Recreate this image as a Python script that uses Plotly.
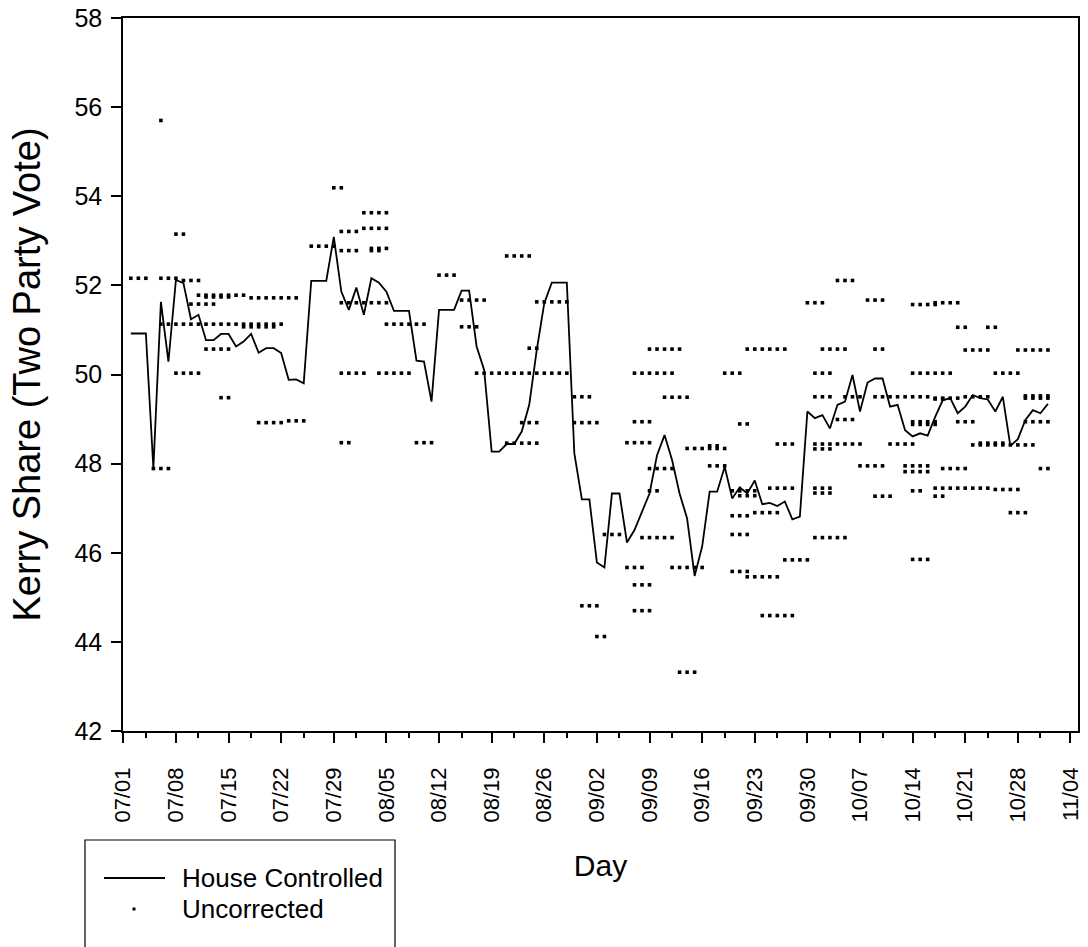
import pandas as pd
import plotly.graph_objects as go

BASE = pd.Timestamp("2004-07-01")

# Daily house-controlled estimate, first value on day 1 (07/02)
house_first_day = 1
house_controlled = [
    50.92, 50.92, 50.92, 47.89, 51.63, 50.29, 52.12, 52.05, 51.24, 51.34,
    50.77, 50.77, 50.91, 50.91, 50.63, 50.74, 50.91, 50.49, 50.59, 50.59,
    50.48, 49.88, 49.89, 49.80, 52.10, 52.10, 52.10, 53.09, 51.86, 51.45,
    51.95, 51.34, 52.16, 52.06, 51.86, 51.43, 51.43, 51.43, 50.31, 50.29,
    49.39, 51.45, 51.45, 51.45, 51.88, 51.88, 50.63, 50.10, 48.27, 48.27,
    48.44, 48.44, 48.72, 49.32, 50.55, 51.60, 52.06, 52.06, 52.06, 48.23,
    47.20, 47.20, 45.78, 45.67, 47.33, 47.33, 46.23, 46.51, 46.90, 47.33,
    48.19, 48.64, 48.08, 47.33, 46.77, 45.48, 46.14, 47.37, 47.37, 47.93,
    47.22, 47.47, 47.33, 47.62, 47.09, 47.12, 47.05, 47.15, 46.75, 46.81,
    49.17, 49.02, 49.09, 48.79, 49.32, 49.39, 49.99, 49.17, 49.82, 49.91,
    49.91, 49.28, 49.32, 48.75, 48.61, 48.68, 48.63, 49.05, 49.42, 49.47,
    49.13, 49.28, 49.54, 49.47, 49.44, 49.17, 49.50, 48.40, 48.55, 48.98,
    49.20, 49.13, 49.34,
]

# Uncorrected polls: first field day (days after 07/01), field length, Kerry share
poll_start = [
    1, 5, 8, 7, 5, 10, 11, 17, 9, 5, 13, 16, 11, 7, 13, 18, 22, 4,
    28, 32, 32, 29, 25, 33, 33, 29, 42, 29, 35, 29, 34, 29, 39,
    51, 45, 55, 45, 54, 47, 54, 60, 53, 60, 51,
    64, 61, 63,
    70, 83, 68, 80, 72, 68, 82, 67, 87, 75, 78, 78, 70, 86, 70, 81, 82,
    84, 81, 81, 69, 88, 67, 73, 81, 83, 68, 68, 85, 74,
    95, 99, 91, 105, 108, 93, 100, 92, 105, 92, 96, 100, 104, 108, 112, 108,
    120, 120, 95, 105, 105, 92, 92, 95, 102, 98, 104, 104, 109, 92, 92, 100,
    105, 108, 112, 116, 108, 92, 105,
    111, 115, 112, 119, 116, 111, 120, 113, 114, 122, 118,
]
poll_days = [
    3, 3, 3, 2, 1, 7, 4, 7, 4, 8, 9, 5, 4, 4, 2, 4, 3, 3,
    2, 4, 4, 3, 4, 3, 2, 3, 3, 7, 6, 4, 5, 2, 3,
    4, 4, 5, 3, 2, 7, 6, 3, 3, 4, 5,
    3, 3, 2,
    5, 6, 6, 3, 4, 3, 2, 4, 3, 6, 2, 3, 4, 4, 2, 4, 3,
    4, 3, 3, 5, 4, 3, 5, 3, 5, 3, 3, 5, 3,
    3, 3, 3, 4, 4, 4, 2, 3, 6, 3, 3, 4, 4, 4, 4, 2,
    4, 4, 3, 4, 4, 3, 3, 4, 4, 4, 4, 4, 4, 3, 3, 3,
    2, 4, 4, 4, 2, 5, 3,
    2, 2, 4, 5, 4, 3, 4, 9, 4, 2, 3,
]
poll_share = [
    52.16, 52.16, 52.11, 53.15, 55.70, 51.78, 51.74, 51.72, 51.58, 51.13, 51.13, 51.07,
    50.57, 50.03, 49.48, 48.92, 48.96, 47.89,
    54.19, 53.63, 53.28, 53.21, 52.88, 52.83, 52.78, 52.78, 52.23, 51.61, 51.13,
    50.03, 50.03, 48.47, 48.47,
    52.66, 51.67, 51.63, 51.07, 50.59, 50.03, 50.03, 49.50, 48.92, 48.92, 48.46,
    46.41, 44.81, 44.12,
    50.57, 50.57, 50.03, 50.03, 49.49, 48.94, 48.89, 48.47, 48.44, 48.34, 48.40,
    47.95, 47.89, 47.45, 47.39, 47.39, 47.28,
    46.90, 46.83, 46.41, 46.34, 45.84, 45.67, 45.67, 45.58, 45.46, 45.28, 44.70,
    44.59, 43.32,
    52.11, 51.67, 51.61, 51.57, 51.61, 50.57, 50.57, 50.03, 50.03, 49.50, 49.50,
    49.50, 49.50, 49.47, 49.50, 49.45,
    49.47, 49.52, 48.99, 48.94, 48.88, 48.44, 48.33, 48.44, 48.44, 47.95, 47.95,
    47.82, 47.89, 47.45, 47.34, 47.27,
    47.39, 47.45, 47.45, 47.42, 47.27, 46.34, 45.85,
    51.06, 51.06, 50.55, 50.55, 50.03, 48.94, 48.94, 48.42, 48.46, 47.89, 46.90,
]

# Week ticks with labels, and an unlabeled tick three days after each
week_ticks = [BASE + pd.Timedelta(days=7 * k) for k in range(19)]
mid_ticks = [BASE + pd.Timedelta(days=7 * k + 3) for k in range(18)]
y_ticks = [42, 44, 46, 48, 50, 52, 54, 56, 58]

line_x = [BASE + pd.Timedelta(days=house_first_day + i) for i in range(len(house_controlled))]

dot_x, dot_y = [], []
for start, n, share in zip(poll_start, poll_days, poll_share):
    for k in range(n):
        dot_x.append(BASE + pd.Timedelta(days=start + k))
        dot_y.append(share)

fig = go.Figure()
fig.add_trace(go.Scatter(
    x=dot_x, y=dot_y, mode="markers", name="Uncorrected",
    marker=dict(symbol="square", size=3.6, color="black", line=dict(width=0)),
))
fig.add_trace(go.Scatter(
    x=line_x, y=house_controlled, mode="lines", name="House Controlled",
    line=dict(color="black", width=1.8),
))

W, H = 1088, 947
L, R, T, B = 123, 10, 18, 216
PW, PH = W - L - R, H - T - B


def px(x):
    return (x - L) / PW


def py(y):
    return (H - B - y) / PH


FONT = "Liberation Sans, Arial, Helvetica, sans-serif"

fig.update_layout(
    width=W, height=H,
    margin=dict(l=L, r=R, t=T, b=B, autoexpand=False),
    plot_bgcolor="white", paper_bgcolor="white",
    showlegend=False,
    font=dict(family=FONT, color="black"),
)
fig.update_xaxes(
    type="date", automargin=False,
    range=[BASE - pd.Timedelta(hours=1), BASE + pd.Timedelta(days=127)],
    tickmode="array", tickvals=week_ticks, tickformat="%m/%d",
    tickangle=-90, tickfont=dict(size=22, family=FONT),
    ticks="outside", ticklen=10, tickwidth=1.5, tickcolor="black",
    ticklabelstandoff=16,
    minor=dict(tickmode="array", tickvals=mid_ticks, ticks="outside",
               ticklen=5, tickwidth=1.5, tickcolor="black", showgrid=False),
    showline=True, linecolor="black", linewidth=1.5, mirror=True,
    showgrid=False, zeroline=False,
    title=dict(text="Day", font=dict(size=30, family=FONT), standoff=33),
)
fig.update_yaxes(
    automargin=False,
    range=[42, 58], tickmode="array", tickvals=y_ticks,
    tickfont=dict(size=25, family=FONT),
    ticks="outside", ticklen=10, tickwidth=1.5, tickcolor="black",
    ticklabelstandoff=4,
    showline=True, linecolor="black", linewidth=1.5, mirror=True,
    showgrid=False, zeroline=False,
    title=dict(text="Kerry Share (Two Party Vote)", font=dict(size=38, family=FONT), standoff=22),
)

# Legend box drawn below the axis
fig.add_shape(type="rect", xref="paper", yref="paper",
              x0=px(85), x1=px(395), y0=py(840), y1=py(990),
              line=dict(color="black", width=1.2), fillcolor="rgba(0,0,0,0)")
fig.add_shape(type="line", xref="paper", yref="paper",
              x0=px(104), x1=px(165), y0=py(878), y1=py(878),
              line=dict(color="black", width=1.8))
fig.add_shape(type="rect", xref="paper", yref="paper",
              x0=px(132.5), x1=px(135.5), y0=py(907.5), y1=py(910.5),
              line=dict(width=0), fillcolor="black")
for label, yy in [("House Controlled", 878), ("Uncorrected", 909)]:
    fig.add_annotation(xref="paper", yref="paper", x=px(180), y=py(yy),
                       text=label, showarrow=False, xanchor="left", yanchor="middle",
                       font=dict(size=26, family=FONT, color="black"))

fig.write_html("out.html")
